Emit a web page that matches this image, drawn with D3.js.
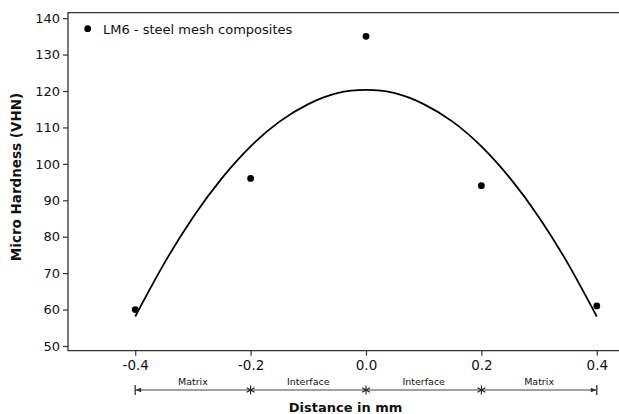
<!DOCTYPE html>
<html>
<head>
<meta charset="utf-8">
<script src="https://cdn.jsdelivr.net/npm/d3@7"></script>
<style>
  html, body { margin: 0; padding: 0; background: #fff; }
  svg { display: block; }
  text { font-family: "DejaVu Sans", Verdana, sans-serif; fill: #111; }
</style>
</head>
<body>
<svg id="chart" width="619" height="414"></svg>
<script>
// ---- data ----
const distances = [-0.4, -0.2, 0.0, 0.2, 0.4];
const hardness  = [60, 96, 135, 94, 61];
// fitted trend curve
const fitX = [-0.4, -0.35, -0.3, -0.25, -0.2, -0.15, -0.1, -0.05, 0.0, 0.05, 0.1, 0.15, 0.2, 0.25, 0.3, 0.35, 0.4];
const fitY = [58.1, 72.6, 85.3, 96.0, 104.8, 111.6, 116.4, 119.4, 120.3, 119.4, 116.4, 111.6, 104.8, 96.0, 85.3, 72.6, 58.1];
const xTicks = [-0.4, -0.2, 0.0, 0.2, 0.4];
const yTicks = [50, 60, 70, 80, 90, 100, 110, 120, 130, 140];
const zoneBounds = [-0.4, -0.2, 0.0, 0.2, 0.4];
const zoneLabels = ["Matrix", "Interface", "Interface", "Matrix"];
const legendLabel = "LM6 - steel mesh composites";
const xTitle = "Distance in mm";
const yTitle = "Micro Hardness (VHN)";

// ---- layout ----
const plotL = 68, plotT = 12.7, plotR = 619, plotB = 350.7;
const svg = d3.select("#chart");

const x = d3.scaleLinear().domain([-0.5165, 0.4385]).range([plotL, plotR]);
const y = d3.scaleLinear().domain([48.7, 141.5]).range([plotB, plotT]);

const axisColor = "#333";

// frame (open to the right, cut by the image edge)
svg.append("path")
  .attr("d", `M${plotR + 5},${plotT}H${plotL}V${plotB}H${plotR + 5}`)
  .attr("fill", "none").attr("stroke", axisColor).attr("stroke-width", 1.3);

// y axis
const yAxis = svg.append("g").attr("transform", `translate(${plotL},0)`)
  .call(d3.axisLeft(y).tickValues(yTicks).tickSize(5).tickPadding(3).tickFormat(d3.format("d")));
yAxis.select(".domain").remove();
yAxis.selectAll("line").attr("stroke", axisColor).attr("stroke-width", 1.2);
yAxis.selectAll("text").attr("font-size", 13).attr("font-family", "DejaVu Sans").attr("fill", "#111");

// x axis
const xAxis = svg.append("g").attr("transform", `translate(0,${plotB})`)
  .call(d3.axisBottom(x).tickValues(xTicks).tickSize(5).tickPadding(5).tickFormat(d3.format(".1f")));
xAxis.select(".domain").remove();
xAxis.selectAll("line").attr("stroke", axisColor).attr("stroke-width", 1.2);
xAxis.selectAll("text").attr("font-size", 13.5).attr("font-family", "DejaVu Sans").attr("fill", "#111")
  .text(d => d3.format(".1f")(d).replace("−", "-"));

// fitted curve
const line = d3.line().x((d, i) => x(fitX[i])).y(d => y(d)).curve(d3.curveNatural);
svg.append("path").datum(fitY)
  .attr("d", line)
  .attr("fill", "none").attr("stroke", "#000").attr("stroke-width", 1.8);

// data points
svg.append("g").selectAll("circle").data(distances).join("circle")
  .attr("cx", d => x(d)).attr("cy", (d, i) => y(hardness[i])).attr("r", 3.4).attr("fill", "#000");

// legend
svg.append("circle").attr("cx", 87.7).attr("cy", 28.7).attr("r", 3.4).attr("fill", "#000");
svg.append("text").attr("x", 103).attr("y", 33.6).attr("font-size", 13).text(legendLabel);

// zone annotation line
const zy = 390;
const zg = svg.append("g");
zg.append("line").attr("x1", x(zoneBounds[0])).attr("x2", x(zoneBounds[zoneBounds.length - 1]))
  .attr("y1", zy).attr("y2", zy).attr("stroke", "#444").attr("stroke-width", 1);
zoneBounds.forEach((b, i) => {
  const cx = x(b);
  if (i === 0 || i === zoneBounds.length - 1) {
    zg.append("line").attr("x1", cx).attr("x2", cx).attr("y1", zy - 5).attr("y2", zy + 5)
      .attr("stroke", "#333").attr("stroke-width", 1.3);
    const dir = i === 0 ? 1 : -1;
    zg.append("path").attr("d", `M${cx},${zy}L${cx + dir * 6},${zy - 2.2}L${cx + dir * 6},${zy + 2.2}Z`)
      .attr("fill", "#333");
  } else {
    const r = 4.5;
    [90, 30, 150].forEach(a => {
      const rad = a * Math.PI / 180;
      zg.append("line")
        .attr("x1", cx - r * Math.cos(rad)).attr("y1", zy - r * Math.sin(rad))
        .attr("x2", cx + r * Math.cos(rad)).attr("y2", zy + r * Math.sin(rad))
        .attr("stroke", "#222").attr("stroke-width", 1.1);
    });
  }
});
zoneLabels.forEach((lab, i) => {
  zg.append("text").attr("x", (x(zoneBounds[i]) + x(zoneBounds[i + 1])) / 2).attr("y", 385)
    .attr("text-anchor", "middle").attr("font-size", 9.5).text(lab);
});

// axis titles
svg.append("text").attr("x", 345.6).attr("y", 411.5).attr("text-anchor", "middle")
  .attr("font-size", 13).attr("font-weight", "bold").text(xTitle);
svg.append("text").attr("transform", `translate(20.5,177) rotate(-90)`).attr("text-anchor", "middle")
  .attr("font-size", 13.5).attr("font-weight", "bold").text(yTitle);
</script>
</body>
</html>
